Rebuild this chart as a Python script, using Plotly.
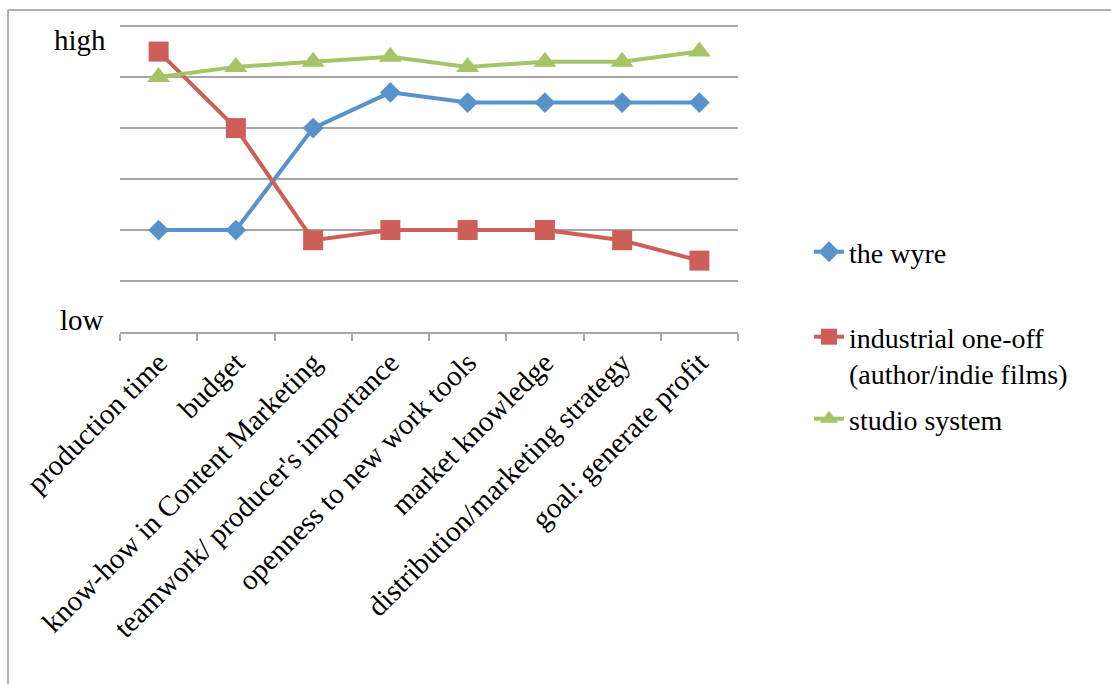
import plotly.graph_objects as go

categories = ["production time", "budget", "know-how in Content Marketing",
              "teamwork/ producer's importance", "openness to new work tools",
              "market knowledge", "distribution/marketing strategy", "goal: generate profit"]
wyre = [2.0, 2.0, 4.0, 4.7, 4.5, 4.5, 4.5, 4.5]
industrial = [5.5, 4.0, 1.8, 2.0, 2.0, 2.0, 1.8, 1.4]
studio = [5.0, 5.2, 5.3, 5.4, 5.2, 5.3, 5.3, 5.5]
series_names = ["the wyre", "industrial one-off<br>(author/indie films)", "studio system"]

FONT = "Liberation Serif"
W, H = 1111, 684
YMAX = 6.1
L, R, B = 120, 373, 352
T = (H - B) - 306 * YMAX / 6
pw, ph = W - L - R, H - T - B

def px(x):
    return (x - L) / pw

def py(y):
    return (H - B - y) / ph

fig = go.Figure()
fig.add_trace(go.Scatter(x=categories, y=wyre, name=series_names[0], mode="lines+markers",
                         line=dict(color="#5892cb", width=4),
                         marker=dict(symbol="diamond", size=16, color="#5892cb"),
                         legend="legend"))
fig.add_trace(go.Scatter(x=categories, y=industrial, name=series_names[1], mode="lines+markers",
                         line=dict(color="#cd5f58", width=4),
                         marker=dict(symbol="square", size=20, color="#cd5f58"),
                         legend="legend2"))
fig.add_trace(go.Scatter(x=categories, y=studio, name=series_names[2], mode="lines+markers",
                         line=dict(color="#a5c465", width=4),
                         marker=dict(symbol="triangle-up", size=20, color="#a5c465"),
                         legend="legend3"))

legend_common = dict(font=dict(family=FONT, size=28, color="black"), bgcolor="rgba(0,0,0,0)",
                     xanchor="left", valign="top", itemwidth=30, tracegroupgap=0)
LX = px(809)
fig.update_layout(
    width=W, height=H,
    margin=dict(l=L, r=R, t=T, b=B, pad=0),
    paper_bgcolor="white", plot_bgcolor="white",
    font=dict(family=FONT, size=28, color="black"),
    legend=dict(x=LX, y=py(252), yanchor="middle", **legend_common),
    legend2=dict(x=LX, y=py(312), yanchor="top", **legend_common),
    legend3=dict(x=LX, y=py(419), yanchor="middle", **legend_common),
    xaxis=dict(type="category", range=[-0.5, 7.5], showgrid=False, showline=True,
               linecolor="#a6a6a6", linewidth=2, ticks="outside", tickson="boundaries",
               ticklen=7, tickcolor="#a6a6a6", tickwidth=2, tickangle=-45,
               tickfont=dict(family=FONT, size=29, color="black"), zeroline=False),
    yaxis=dict(range=[0, YMAX], tickvals=[1, 2, 3, 4, 5, 6], showgrid=True,
               gridcolor="#a6a6a6", gridwidth=2,
               showticklabels=False, ticks="", showline=False, zeroline=False),
    showlegend=True,
)

fig.add_annotation(xref="paper", yref="paper", x=px(80), y=py(40), text="high", showarrow=False,
                   xanchor="center", yanchor="middle",
                   font=dict(family=FONT, size=29, color="black"))
fig.add_annotation(xref="paper", yref="paper", x=px(82), y=py(320), text="low", showarrow=False,
                   xanchor="center", yanchor="middle",
                   font=dict(family=FONT, size=29, color="black"))

# outer frame lines
fig.add_shape(type="line", xref="paper", yref="paper", x0=px(8), x1=px(8), y0=py(10), y1=py(700),
              line=dict(color="#b0b0b0", width=2))
fig.add_shape(type="line", xref="paper", yref="paper", x0=px(8), x1=px(1120), y0=py(10), y1=py(10),
              line=dict(color="#b0b0b0", width=2))

fig.write_html("out.html")
